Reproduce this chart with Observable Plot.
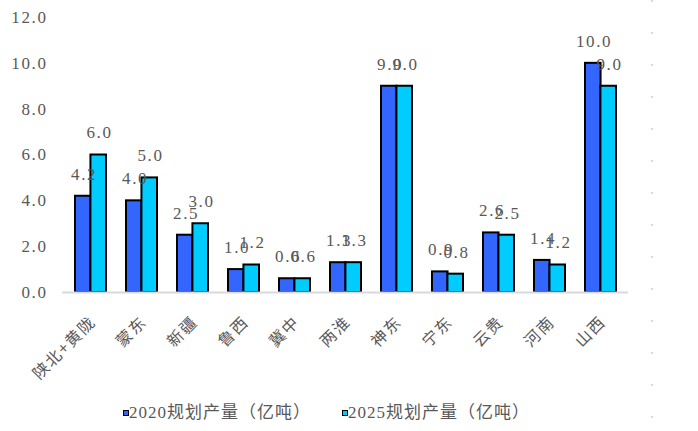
<!DOCTYPE html>
<html>
<head>
<meta charset="utf-8">
<script src="https://cdn.jsdelivr.net/npm/d3@7"></script>
<script src="https://cdn.jsdelivr.net/npm/@observablehq/plot@0.6"></script>
<style>
  html, body { margin: 0; padding: 0; background: #fff; }
  #wrap { position: relative; width: 698px; height: 431px; overflow: hidden; }
  #wrap svg text { letter-spacing: 1.6px; }
  #wrap svg g[aria-label="xlab"] text { letter-spacing: 0; }
  .deco { position: absolute; left: 651px; top: 0; width: 2px; height: 431px;
          background: repeating-linear-gradient(to bottom, #d9d9d9 0 2px, transparent 2px 32px); }
  .leg { position: absolute; top: 403px; height: 20px; line-height: 20px; font-size: 17px; letter-spacing: 1px;
         font-family: "Liberation Serif", "Noto Sans CJK SC", serif; color: #595959; white-space: nowrap; }
  .sw { display: inline-block; width: 4px; height: 4px; border: 1.5px solid #000; vertical-align: middle; margin-right: 0px; position: relative; top: -1px; }
</style>
</head>
<body>
<div id="wrap"></div>
<script>
const categories = ["陕北+黄陇","蒙东","新疆","鲁西","冀中","两淮","神东","宁东","云贵","河南","山西"];
const v2020 = [4.2, 4.0, 2.5, 1.0, 0.6, 1.3, 9.0, 0.9, 2.6, 1.4, 10.0];
const v2025 = [6.0, 5.0, 3.0, 1.2, 0.6, 1.3, 9.0, 0.8, 2.5, 1.2, 9.0];
const yTicks = [0, 2, 4, 6, 8, 10, 12];
const seriesNames = ["2020规划产量（亿吨）", "2025规划产量（亿吨）"];
const seriesColors = ["#3366FF", "#00CCFF"];

const rows = categories.map((c, i) => ({cat: c, a: v2020[i], b: v2025[i]}));
const fmt = d3.format(".1f");
const W = 698, H = 400, mL = 62, mR = 70, mT = 17, mB = 108;
const step = (W - mL - mR) / categories.length;
const bw = step * 0.6;
const numFont = '"Liberation Serif", "Noto Sans CJK SC", serif';

const plot = Plot.plot({
  width: W, height: H,
  marginLeft: mL, marginRight: mR, marginTop: mT, marginBottom: mB,
  style: {fontFamily: numFont, fontSize: "17px", color: "#595959", background: "#fff"},
  x: {domain: categories, paddingInner: 0.4, paddingOuter: 0.2, axis: null},
  y: {domain: [0, 12], ticks: yTicks, tickFormat: fmt},
  marks: [
    Plot.axisY({ticks: yTicks, tickFormat: fmt, tickSize: 0, tickPadding: 15, fontSize: 17, fill: "#595959"}),
    Plot.barY(rows, {x: "cat", y: "a", fill: seriesColors[0], stroke: "#000", strokeWidth: 2, insetRight: bw / 2}),
    Plot.barY(rows, {x: "cat", y: "b", fill: seriesColors[1], stroke: "#000", strokeWidth: 2, insetLeft: bw / 2}),
    Plot.ruleY([0], {stroke: "#d9d9d9", strokeWidth: 2}),
    Plot.text(rows, {x: "cat", y: "a", text: d => fmt(d.a), dx: -bw / 4 + 0.8, dy: -22, lineAnchor: "middle", fill: "#595959", fontSize: 17}),
    Plot.text(rows, {x: "cat", y: "b", text: d => fmt(d.b), dx: bw / 4 + 0.8, dy: -22, lineAnchor: "middle", fill: "#595959", fontSize: 17}),
    Plot.text(categories, {x: d => d, frameAnchor: "bottom", rotate: -45, textAnchor: "end", lineAnchor: "middle",
      dx: 2, dy: 27, fill: "#595959", fontSize: 16, fontFamily: '"Noto Sans CJK SC", sans-serif', ariaLabel: "xlab"})
  ]
});

const wrap = document.getElementById("wrap");
wrap.appendChild(plot);
const deco = document.createElement("div");
deco.className = "deco";
wrap.appendChild(deco);
const legLeft = [123, 342];
seriesNames.forEach((name, i) => {
  const item = document.createElement("div");
  item.className = "leg";
  item.style.left = legLeft[i] + "px";
  const sw = document.createElement("span");
  sw.className = "sw";
  sw.style.background = seriesColors[i];
  item.appendChild(sw);
  item.appendChild(document.createTextNode(name));
  wrap.appendChild(item);
});
</script>
</body>
</html>
